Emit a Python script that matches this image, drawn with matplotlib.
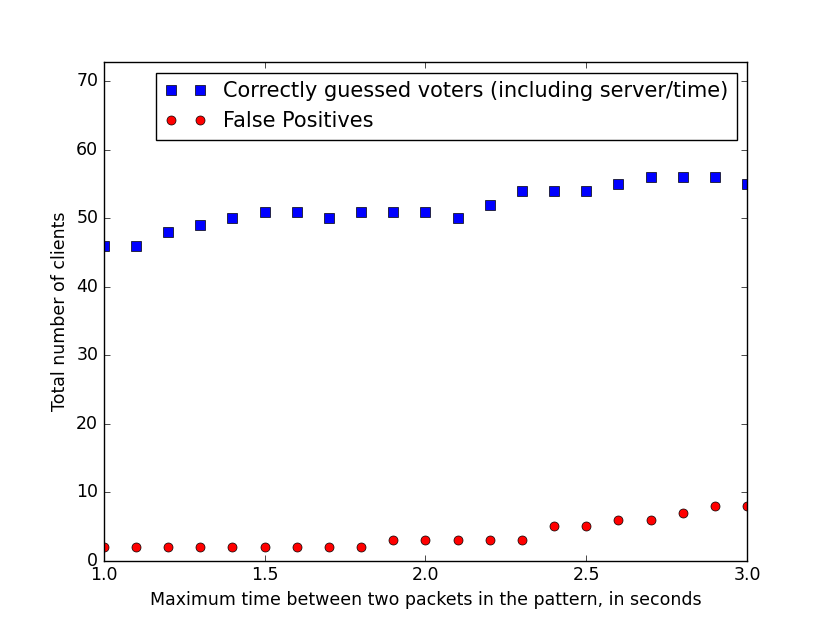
import matplotlib
matplotlib.use('Agg')
import matplotlib.pyplot as plt

plt.style.use('classic')
plt.rcParams['font.size'] = 12.5

max_gap_s = [1.0, 1.1, 1.2, 1.3, 1.4, 1.5, 1.6, 1.7, 1.8, 1.9, 2.0,
             2.1, 2.2, 2.3, 2.4, 2.5, 2.6, 2.7, 2.8, 2.9, 3.0]
correct_voters = [46, 46, 48, 49, 50, 51, 51, 50, 51, 51, 51,
                  50, 52, 54, 54, 54, 55, 56, 56, 56, 55]
false_positives = [2, 2, 2, 2, 2, 2, 2, 2, 2, 3, 3,
                   3, 3, 3, 5, 5, 6, 6, 7, 8, 8]

fig = plt.figure(figsize=(8.3, 6.23), dpi=100)
fig.patch.set_facecolor('white')
ax = fig.add_axes([0.125, 0.1, 0.775, 0.8])

ax.plot(max_gap_s, correct_voters, 'bs', markersize=6.5,
        label='Correctly guessed voters (including server/time)')
ax.plot(max_gap_s, false_positives, 'ro', markersize=6.5, label='False Positives')

ax.set_xlim(1.0, 3.0)
ax.set_ylim(0, 72.8)
ax.set_xticks([1.0, 1.5, 2.0, 2.5, 3.0])
ax.set_yticks(range(0, 80, 10))
ax.set_xlabel('Maximum time between two packets in the pattern, in seconds')
ax.set_ylabel('Total number of clients')

ax.legend(loc='upper right', numpoints=2, fontsize=15, handletextpad=0.8)

fig.savefig('out.png', dpi=100, facecolor='white')
